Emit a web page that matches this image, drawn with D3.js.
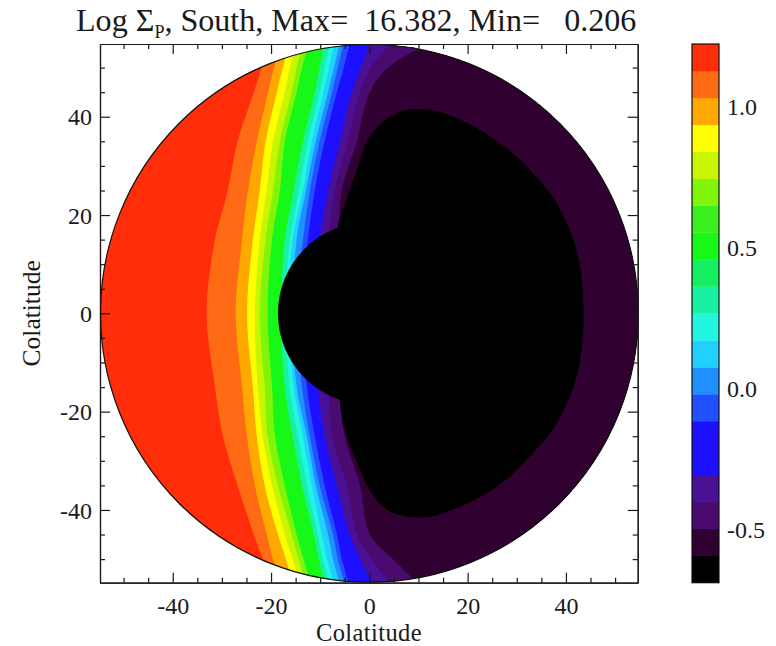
<!DOCTYPE html>
<html><head><meta charset="utf-8">
<script src="https://cdn.jsdelivr.net/npm/d3@7"></script>
<style>
html,body{margin:0;padding:0;background:#fff}
text{font-family:"Liberation Serif","Times New Roman",serif;fill:#1a1a1a;white-space:pre}
</style></head><body>
<script>
// colour bar: level edges (low to high) and fill of each band
const levels = [-0.687,-0.5915,-0.496,-0.4005,-0.305,-0.2095,-0.114,-0.0185,0.077,0.1725,0.268,0.3635,0.459,0.5545,0.65,0.7455,0.841,0.9365,1.032,1.1275,1.223];
const bandColors = ["#000000","#300030","#4a0a70","#4a1096","#1c10ff","#1c10ff","#2050ff","#2090ff","#22d0ff","#22f5e0","#18f0a4","#14f060","#18f818","#3cf020","#80f50a","#c8f500","#ffff00","#ffa800","#ff6a14","#ff2d0a"];
const colorbarTicks = [-0.5,0,0.5,1];
const axisMajor = [-40,-20,0,20,40];
const axisMinor = [-50,-45,-35,-30,-25,-15,-10,-5,5,10,15,25,30,35,45,50];

// contour boundaries: colatitude X at each colatitude Y row
const rowsY = [55,50,45,35,25,15,0,-15,-25,-35,-45,-50,-55];
const edgeOrange = [-20.2,-21.9,-23.5,-26.8,-28.8,-31.4,-33.1,-31.4,-29.8,-26.8,-23.5,-21.7,-19.6];
const edgeAmber  = [-18.0,-19.4,-20.6,-22.9,-24.7,-25.9,-27.2,-25.9,-24.9,-23.3,-20.9,-19.6,-17.6];
const edgeYellow = [-16.2,-17.6,-18.8,-21.1,-22.3,-23.7,-24.9,-23.7,-22.9,-21.3,-18.6,-17.0,-15.6];
const edgeYG     = [-15.0,-16.2,-17.2,-19.6,-20.9,-22.3,-23.3,-22.7,-21.7,-19.8,-17.2,-15.6,-14.0];
const edgeLime   = [-13.5,-14.8,-15.8,-18.2,-19.6,-21.1,-22.3,-21.3,-20.7,-18.6,-15.8,-14.4,-13.0];
const edgeGreen  = [-12.3,-13.7,-14.8,-17.2,-18.2,-19.8,-20.7,-19.8,-19.2,-17.2,-14.8,-13.4,-12.0];
const edgeAqua   = [-9.1,-10.1,-11.1,-13.5,-15.4,-17.2,-18.0,-17.2,-15.6,-13.7,-11.3,-10.3,-9.1];
const edgeTurq   = [-8.0,-9.1,-10.1,-12.5,-14.3,-16.2,-17.0,-16.2,-14.5,-12.7,-10.5,-9.5,-8.0];
const edgeCyan   = [-7.0,-8.2,-9.3,-11.7,-13.5,-15.6,-16.4,-15.4,-13.5,-11.7,-9.7,-8.6,-7.2];
const edgeSky    = [-6.0,-7.2,-8.4,-10.9,-12.9,-14.8,-15.6,-14.8,-12.7,-10.9,-8.4,-7.4,-6.0];
const edgeAzure  = [-5.2,-6.4,-7.6,-10.1,-12.1,-13.5,-15.0,-13.7,-12.1,-10.1,-7.4,-6.4,-5.0];
const edgeBlue   = [-4.0,-5.2,-6.6,-9.1,-11.1,-12.5,-14.0,-12.7,-11.1,-9.1,-6.6,-5.6,-4.2];
const edgeViolet = [0.1,-1.7,-3.6,-6.0,-8.4,-10.1,-12.1,-10.5,-9.1,-6.6,-4.0,-1.9,0.5];
const edgePurple = [4.4,0.3,-1.9,-4.4,-7.0,-8.4,-10.5,-8.4,-7.6,-4.6,-2.5,0.5,4.2];
const edgeDark   = [12.3,3.8,0.1,-2.5,-5.6,-6.4,-9.1,-6.4,-5.0,-1.9,0.1,4.8,9.9];
// colour-bar band revealed to the right of each boundary
const contourEdges = [edgeOrange,edgeAmber,edgeYellow,edgeYG,edgeLime,edgeGreen,edgeAqua,edgeTurq,edgeCyan,edgeSky,edgeAzure,edgeBlue,edgeViolet,edgePurple,edgeDark];
const contourBands = [18,17,16,15,14,12,10,9,8,7,6,4,3,2,1];
// black floor of the scale: inner cap radius plus the outline of the low-value region
const capRadius = 18.6;
const floorX = [-6.4,-5.4,-4.0,-2.5,-0.3,3.8,7.8,12.3,17.8,22.5,28.0,33.3,37.3,40.8,42.8,43.6,42.8,40.8,37.3,33.3,28.0,22.5,17.8,12.3,8.2,3.6,0.1,-2.5,-4.8,-6.0];
const floorY = [17.6,21.0,25.1,29.2,35.3,39.7,41.4,41.4,39.7,37.3,33.6,28.5,23.7,16.9,10.2,0,-10.1,-17.0,-23.7,-28.4,-33.7,-37.4,-39.6,-41.4,-41.4,-40.0,-36.0,-30.4,-24.4,-17.6];
const discRadius = 54.7;
const xDomain = [-54.8,54.6], yDomain = [-54.8,54.8];

const W = 776, H = 646;
const plot = {l:100, r:637.7, t:44, b:582.7};
const bar = {l:692, r:719};
const x = d3.scaleLinear().domain(xDomain).range([plot.l,plot.r]);
const y = d3.scaleLinear().domain(yDomain).range([plot.b,plot.t]);
const c = d3.scaleLinear().domain([levels[0],levels[levels.length-1]]).range([plot.b,plot.t]);
const svg = d3.select("body").append("svg").attr("width",W).attr("height",H).style("display","block");
const ink = "#1a1a1a";

svg.append("defs").append("clipPath").attr("id","disc").append("ellipse")
  .attr("cx",x(0)).attr("cy",y(0)).attr("rx",x(discRadius)-x(0)).attr("ry",y(0)-y(discRadius));

const g = svg.append("g").attr("clip-path","url(#disc)");
g.append("rect").attr("x",plot.l-2).attr("y",plot.t-2).attr("width",plot.r-plot.l+4).attr("height",plot.b-plot.t+4).attr("fill",bandColors[19]);

const smooth = d3.line().x(d=>x(d[0])).y(d=>y(d[1])).curve(d3.curveCatmullRom.alpha(0.5));
const closedSmooth = d3.line().x(d=>x(d[0])).y(d=>y(d[1])).curve(d3.curveCatmullRomClosed.alpha(0.5));
contourEdges.forEach((edge,i)=>{
  const pts = edge.map((v,k)=>[v,rowsY[k]]);
  const d = smooth(pts)+`L${x(60)},${y(rowsY[rowsY.length-1])}L${x(60)},${y(rowsY[0])}Z`;
  g.append("path").attr("d",d).attr("fill",bandColors[contourBands[i]]);
});
g.append("path").attr("d",closedSmooth(floorX.map((v,k)=>[v,floorY[k]]))).attr("fill",bandColors[0]);
g.append("ellipse").attr("cx",x(0)).attr("cy",y(0)).attr("rx",x(capRadius)-x(0)).attr("ry",y(0)-y(capRadius)).attr("fill",bandColors[0]);

svg.append("ellipse").attr("cx",x(0)).attr("cy",y(0)).attr("rx",x(discRadius)-x(0)).attr("ry",y(0)-y(discRadius))
  .attr("fill","none").attr("stroke","#111").attr("stroke-width",1.2);

// axes: major and minor ticks point inward on all four sides
function styleAxis(a){
  a.selectAll(".domain").attr("stroke",ink).attr("stroke-width",1.2);
  a.selectAll(".tick line").attr("stroke",ink).attr("stroke-width",1.2);
  a.selectAll("text").attr("fill",ink).style("font-size","24px").style("font-family",'"Liberation Serif",serif');
}
const noLabel = ()=>"";
function addAxis(gen,scale,dx,dy,labels){
  const major = gen(scale).tickValues(axisMajor).tickSizeOuter(0).tickSizeInner(-10);
  major.tickFormat(labels?d3.format("d"):noLabel);
  const a = svg.append("g").attr("transform",`translate(${dx},${dy})`).call(major);
  styleAxis(a);
  const b = svg.append("g").attr("transform",`translate(${dx},${dy})`).call(gen(scale).tickValues(axisMinor).tickSizeOuter(0).tickSizeInner(-5).tickFormat(noLabel));
  styleAxis(b);
  return a;
}
const ab = addAxis(d3.axisBottom,x,0,plot.b,true);
ab.selectAll("text").attr("dy",null).attr("y",30.9).text(d=>String(d));
addAxis(d3.axisTop,x,0,plot.t,false);
const al = addAxis(d3.axisLeft,y,plot.l,0,true);
al.selectAll("text").attr("x",-8).attr("dy","0.34em").text(d=>String(d));
addAxis(d3.axisRight,y,plot.r,0,false);

// titles
const title = svg.append("text").attr("x",76).attr("y",31).style("font-size","32.1px");
title.append("tspan").text("Log Σ");
title.append("tspan").attr("dy",7).style("font-size","18px").text("P");
title.append("tspan").attr("dy",-7).text(", South, Max=  16.382, Min=   0.206");
svg.append("text").attr("x",369).attr("y",640.7).attr("text-anchor","middle").style("font-size","24.5px").style("letter-spacing","0.4px").text("Colatitude");
svg.append("text").attr("transform",`translate(40,${y(0)}) rotate(-90)`).attr("text-anchor","middle").style("font-size","25.5px").text("Colatitude");

// colour bar
svg.append("g").selectAll("rect").data(bandColors).join("rect")
  .attr("x",bar.l).attr("width",bar.r-bar.l)
  .attr("y",(d,i)=>c(levels[i+1])).attr("height",(d,i)=>c(levels[i])-c(levels[i+1])+0.3)
  .attr("fill",d=>d);
svg.append("rect").attr("x",bar.l).attr("y",plot.t).attr("width",bar.r-bar.l).attr("height",plot.b-plot.t)
  .attr("fill","none").attr("stroke","#111").attr("stroke-width",1.2);
svg.append("g").selectAll("text").data(colorbarTicks).join("text")
  .attr("x",727).attr("y",d=>c(d)).attr("dy","0.34em").style("font-size","24px")
  .text(d=>d3.format(".1f")(d).replace("−","-"));
</script>
</body></html>
